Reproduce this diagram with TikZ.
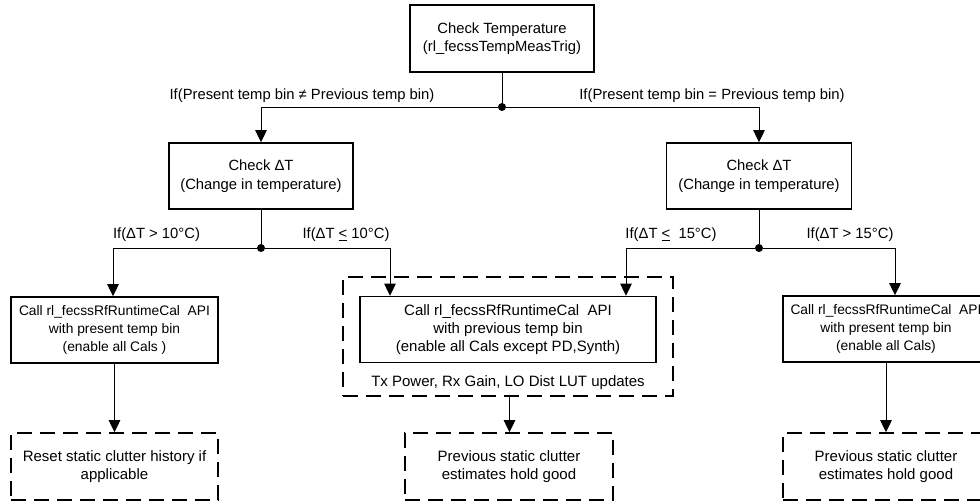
\documentclass[tikz,border=0pt]{standalone}
\usepackage{fontspec}
\setmainfont{Liberation Sans}
\usetikzlibrary{arrows.meta}
\newcommand\lbl{\fontsize{14.8}{18.5}\selectfont}
\newcommand\lrg{\fontsize{15}{18}\selectfont}
\newcommand\sml{\fontsize{13.8}{18}\selectfont}
\newcommand\lte{\underline{<}}

\begin{document}
\begin{tikzpicture}[x=1pt, y=-1pt,
  box/.style = {draw, line width=1.6pt, inner sep=0pt, align=center, font=\lbl},
  dbox/.style = {box, dash pattern=on 15pt off 8pt},
  flow/.style = {line width=0.9pt, -{Triangle[width=11.5pt,length=12pt]}},
  wire/.style = {line width=0.9pt},
  dot/.style = {circle, fill, inner sep=0pt, minimum size=8pt}]
\useasboundingbox (0,0) rectangle (980,503);

% decision boxes
\node[box, minimum width=184pt, minimum height=67pt] (temp) at (502,38.5) {Check Temperature\\(rl\_fecssTempMeasTrig)};
\node[box, minimum width=184pt, minimum height=66pt] (dtL) at (261,176) {Check ΔT\\(Change in temperature)};
\node[box, minimum width=185pt, minimum height=66pt] (dtR) at (759,176) {Check ΔT\\(Change in temperature)};

% junctions
\node[dot] (j0) at (502,107) {};
\node[dot] (jL) at (261,248) {};
\node[dot] (jR) at (759,248) {};

% branch labels
\node[font=\lbl] (neq) at (302,96) {If(Present temp bin ≠ Previous temp bin)};
\node[font=\lbl] (eq) at (712,96) {If(Present temp bin = Previous temp bin)};
\node[font=\lbl] (gtL) at (156.5,235) {If(ΔT > 10°C)};
\node[font=\lbl] (leL) at (346,235) {If(ΔT \lte{} 10°C)};
\node[font=\lbl] (leR) at (671,235) {If(ΔT \lte{}\ \ 15°C)};
\node[font=\lbl] (gtR) at (850,235) {If(ΔT > 15°C)};

% calibration calls
\node[box, font=\sml, minimum width=207pt, minimum height=66pt] (calA) at (114.5,330) {Call rl\_fecssRfRuntimeCal\ \ API\\with present temp bin\\(enable all Cals )};
\node[dbox, minimum width=330pt, minimum height=119pt] (grpB) at (508,336.5) {};
\node[box, font=\lrg, minimum width=296pt, minimum height=66pt] (calB) at (508,329.5) {Call rl\_fecssRfRuntimeCal\ \ API\\with previous temp bin\\(enable all Cals except PD,Synth)};
\node[font=\lrg] (lut) at (508,383) {Tx Power, Rx Gain, LO Dist LUT updates};
\node[box, font=\sml, minimum width=206pt, minimum height=66pt] (calC) at (886,329) {Call rl\_fecssRfRuntimeCal\ \ API\\with present temp bin\\(enable all Cals)};

% clutter outcomes
\node[dbox, font=\lrg, minimum width=207pt, minimum height=67pt] (resA) at (114.5,466.5) {Reset static clutter history if\\applicable};
\node[dbox, font=\lrg, minimum width=208pt, minimum height=67pt] (resB) at (509,466.5) {Previous static clutter\\estimates hold good};
\node[dbox, font=\lrg, minimum width=206pt, minimum height=67pt] (resC) at (886,466.5) {Previous static clutter\\estimates hold good};

\draw[wire] (temp) -- (j0);
\draw[flow] (j0) -| (dtL.north);
\draw[flow] (j0) -| (dtR.north);
\draw[wire] (dtL) -- (jL);
\draw[wire] (dtR) -- (jR);
\draw[flow] (jL) -| ([xshift=-1.5pt]calA.north);
\draw[flow] (jL) -| ([xshift=-118pt]calB.north);
\draw[flow] (jR) -| ([xshift=118pt]calB.north);
\draw[flow] (jR) -| ([xshift=9pt]calC.north);
\draw[flow] (calA) -- (resA);
\draw[flow] ([xshift=1.5pt]grpB.south) -- ([xshift=1.5pt]grpB.south |- resB.north);
\draw[flow] (calC) -- (resC);
\end{tikzpicture}
\end{document}
